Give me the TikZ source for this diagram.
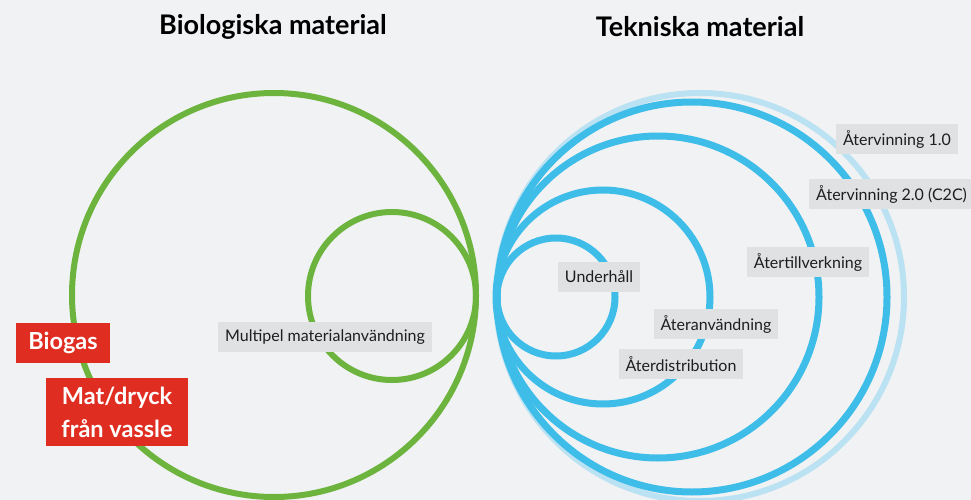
\documentclass[tikz,border=0pt]{standalone}
\usepackage{fontspec}
\setmainfont{Lato}
\begin{document}
\begin{tikzpicture}[x=1pt,y=-1pt,
  greyLabel/.style={fill=boxColor,text=textColor,inner xsep=7pt,inner ysep=0pt,
    minimum height=30pt,font=\fontsize{16}{19}\selectfont},
  redLabel/.style={fill=redColor,text=white,inner xsep=12pt,inner ysep=9pt,align=center,
    font=\fontsize{23.5}{33}\selectfont\bfseries},
  titleLabel/.style={text=black,font=\fontsize{27}{30}\selectfont\bfseries}]
\definecolor{bgColor}{RGB}{241,242,244}
\definecolor{boxColor}{RGB}{224,225,227}
\definecolor{textColor}{RGB}{30,30,30}
\definecolor{greenColor}{RGB}{109,180,63}
\definecolor{blueColor}{RGB}{62,189,233}
\definecolor{lightBlueColor}{RGB}{186,226,242}
\definecolor{redColor}{RGB}{224,45,33}
\path[use as bounding box,fill=bgColor] (0,0) rectangle (971,500);
\begin{scope}
\path[clip] (0,0) rectangle (971,500);

% biological cycle
\draw[greenColor,line width=6pt] (274,295) circle[radius=202];
\draw[greenColor,line width=6pt] (392,296) circle[radius=84];

% technical cycle
\draw[lightBlueColor,line width=6pt] (700,297) circle[radius=204];
\draw[blueColor,line width=7pt] (692,297) circle[radius=195];
\draw[blueColor,line width=7pt] (658,297) circle[radius=161];
\draw[blueColor,line width=7pt] (603,297) circle[radius=107];
\draw[blueColor,line width=7pt] (556,297) circle[radius=59];

% titles
\node[titleLabel] (bioTitle) at (273,27) {Biologiska material};
\node[titleLabel] (techTitle) at (700,27) {Tekniska material};

% labels
\node[greyLabel] (multipel) at (325,337) {Multipel materialanvändning};
\node[greyLabel] (underhall) at (599,277) {Underhåll};
\node[greyLabel] (ateranv) at (716,324) {Återanvändning};
\node[greyLabel] (aterdist) at (681,364) {Återdistribution};
\node[greyLabel] (atertillv) at (808,262) {Återtillverkning};
\node[greyLabel] (atervinn1) at (897,139) {Återvinning 1.0};
\node[greyLabel,anchor=west] (atervinn2) at (809,194) {Återvinning 2.0 (C2C)};

\node[redLabel] (biogas) at (63,343) {Biogas};
\node[redLabel,inner xsep=15pt] (vassle) at (117,412) {Mat/dryck\\från vassle};
\end{scope}
\end{tikzpicture}
\end{document}
